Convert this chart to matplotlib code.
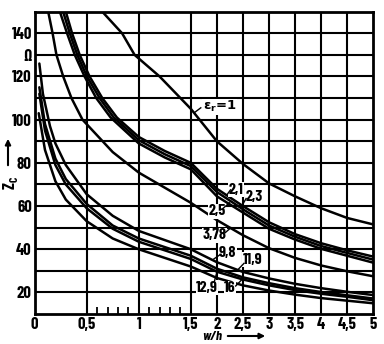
import numpy as np
import matplotlib
matplotlib.use("Agg")
import matplotlib.pyplot as plt
from matplotlib.patches import FancyArrowPatch

# characteristic impedance of a microstrip line vs. strip width ratio
er_labels = ["1", "2,1", "2,3", "2,5", "3,78", "9,8", "11,9", "12,9", "16"]

wh_1 = [0.65, 0.84, 0.96, 1.2, 1.4, 1.5, 2.0, 2.5, 3.0, 3.5, 4.0, 4.5, 5.0]
zc_1 = [150, 140, 130, 120, 110, 105, 90, 79.5, 70.5, 64.5, 59, 54.5, 51.5]

wh_21 = [0.30, 0.36, 0.433, 0.528, 0.65, 0.79, 1.0, 1.25, 1.5, 2.0, 2.5, 3.0, 3.5, 4.0, 4.5, 5.0]
zc_21 = [150, 140, 130, 120, 110, 101, 92, 85.5, 80, 68, 60, 52.5, 47, 42.8, 39.5, 36.6]

wh_23 = [0.274, 0.338, 0.41, 0.503, 0.624, 0.76, 1.0, 1.25, 1.5, 2.0, 2.5, 3.0, 3.5, 4.0, 4.5, 5.0]
zc_23 = [150, 140, 130, 120, 110, 101, 90.5, 84, 78.5, 66.5, 58.5, 51, 45.8, 41.5, 38.3, 35.2]

wh_25 = [0.243, 0.312, 0.386, 0.48, 0.592, 0.73, 1.0, 1.25, 1.5, 2.0, 2.5, 3.0, 3.5, 4.0, 4.5, 5.0]
zc_25 = [150, 140, 130, 120, 110, 101, 89, 82.5, 77, 64.5, 57, 49.5, 44.5, 40.2, 37, 33.8]

wh_378 = [0.131, 0.173, 0.21, 0.275, 0.354, 0.46, 0.75, 1.0, 1.5, 2.0, 2.5, 3.0, 3.5, 4.0, 4.5, 5.0]
zc_378 = [150, 140, 130, 120, 110, 100, 85, 75.5, 61.5, 53.5, 46.5, 40.5, 36, 32.5, 29.8, 27.5]

wh_98 = [0.046, 0.08, 0.148, 0.2, 0.3, 0.5, 0.75, 1.0, 1.5, 2.0, 2.5, 3.0, 3.5, 4.0, 4.5, 5.0]
zc_98 = [126, 112, 97, 89, 79, 65.5, 55.5, 48.5, 40, 34, 29.5, 26.5, 24, 22, 20.3, 18.8]

wh_119 = [0.046, 0.1, 0.2, 0.3, 0.5, 0.75, 1.0, 1.5, 2.0, 2.5, 3.0, 3.5, 4.0, 4.5, 5.0]
zc_119 = [115, 98, 82, 72.5, 61, 51, 45, 37, 31, 27, 24.3, 22, 20.2, 18.7, 17.2]

wh_129 = [0.046, 0.1, 0.2, 0.3, 0.5, 0.75, 1.0, 1.5, 2.0, 2.5, 3.0, 3.5, 4.0, 4.5, 5.0]
zc_129 = [112, 95, 79, 70, 59, 49.5, 43.5, 35.5, 29.6, 26, 23.3, 21.1, 19.4, 18, 16.4]

wh_16 = [0.04, 0.1, 0.2, 0.3, 0.5, 0.75, 1.0, 1.5, 2.0, 2.5, 3.0, 3.5, 4.0, 4.5, 5.0]
zc_16 = [103, 86, 71.5, 63, 53, 45, 40, 32, 26.7, 23.3, 20.9, 19, 17.4, 16.2, 15]

curves = [(wh_1, zc_1), (wh_21, zc_21), (wh_23, zc_23), (wh_25, zc_25),
          (wh_378, zc_378), (wh_98, zc_98), (wh_119, zc_119),
          (wh_129, zc_129), (wh_16, zc_16)]

# label text position, leader start, leader end (data units)
label_pos = [(2.05, 106), (2.36, 67.5), (2.72, 64.4), (2.0, 57.5), (1.96, 46.6),
             (2.2, 38.5), (2.68, 35.1), (1.81, 22.3), (2.25, 22.0)]
leaders = [((1.58, 103.5), (1.69, 105.5)), ((2.2, 65.5), (2.26, 67.5)),
           ((2.5, 61.0), (2.56, 63.5)), ((2.24, 61.5), (2.12, 59.0)),
           ((2.27, 50.0), (2.15, 47.5)), ((1.94, 35.5), (2.06, 37.5)),
           ((2.42, 31.0), (2.52, 33.5)), ((2.0, 29.5), (1.95, 25.0)),
           ((2.48, 26.0), (2.36, 23.0))]

xticks = [0, 0.5, 1, 1.5, 2, 2.5, 3, 3.5, 4, 4.5, 5]
xtick_labels = ["0", "0,5", "1", "1,5", "2", "2,5", "3", "3,5", "4", "4,5", "5"]
yticks = list(range(20, 150, 10))
ytick_labels = ["20", "", "40", "", "60", "", "80", "", "100", "", "120", "Ω", "140"]
minor_x = [0.6, 0.7, 0.8, 0.9, 1.1, 1.2, 1.3, 1.4]

plt.rcParams["font.family"] = ["Barlow Condensed", "DejaVu Sans"]
plt.rcParams["font.weight"] = "bold"


def fwd(x):
    x = np.asarray(x, dtype=float)
    return np.where(x <= 1.5, x, 1.5 + (x - 1.5) / 2)


def inv(y):
    y = np.asarray(y, dtype=float)
    return np.where(y <= 1.5, y, 1.5 + (y - 1.5) * 2)


fig = plt.figure(figsize=(3.84, 3.44), dpi=100)
ax = fig.add_axes([0.090, 0.087, 0.882, 0.879])
ax.set_xscale("function", functions=(fwd, inv))
ax.set_xlim(0, 5)
ax.set_ylim(10, 150)

for xv in xticks[1:-1]:
    ax.axvline(xv, color="black", lw=1.5, zorder=1)
for yv in yticks:
    ax.axhline(yv, color="black", lw=1.5, zorder=1)

for wh, zc in curves:
    ax.plot(wh, zc, color="black", lw=1.8, zorder=3, solid_capstyle="round")

for txt, (lx, ly) in zip(er_labels, label_pos):
    kw = dict(fontsize=11.5)
    if txt == "1":
        txt = "ε$_\\mathregular{r}$=1"
        kw = dict(fontsize=9.5, family=["DejaVu Sans"])
    ax.text(lx, ly, txt, ha="center", va="center", zorder=4,
            bbox=dict(facecolor="white", edgecolor="none", pad=0.3), **kw)
for (x0, y0), (x1, y1) in leaders:
    ax.plot([x0, x1], [y0, y1], color="black", lw=1.0, zorder=5)

ax.set_xticks(xticks)
ax.set_xticklabels(xtick_labels, fontsize=12)
ax.set_xticks(minor_x, minor=True)
ax.set_yticks(yticks)
ax.set_yticklabels(ytick_labels, fontsize=12)
ax.tick_params(axis="both", which="major", length=0, pad=2)
ax.tick_params(axis="x", which="minor", direction="in", length=5, width=1.3)
for sp in ax.spines.values():
    sp.set_linewidth(2)

# axis titles with arrows
fig.text(212 / 384, 1 - 336 / 344, "w/h", fontsize=10, style="italic",
         ha="center", va="center")
fig.add_artist(FancyArrowPatch(
    (225 / 384, 1 - 336 / 344), (268 / 384, 1 - 336 / 344),
    transform=fig.transFigure, arrowstyle="-|>", mutation_scale=8,
    color="black", lw=1.5))
fig.text(10 / 384, 1 - 183 / 344, "Z$_\\mathregular{C}$", fontsize=12, rotation=90,
         ha="center", va="center")
fig.add_artist(FancyArrowPatch(
    (8 / 384, 1 - 168 / 344), (8 / 384, 1 - 136 / 344),
    transform=fig.transFigure, arrowstyle="-|>", mutation_scale=8,
    color="black", lw=1.5))

fig.savefig("out.png", dpi=100)
